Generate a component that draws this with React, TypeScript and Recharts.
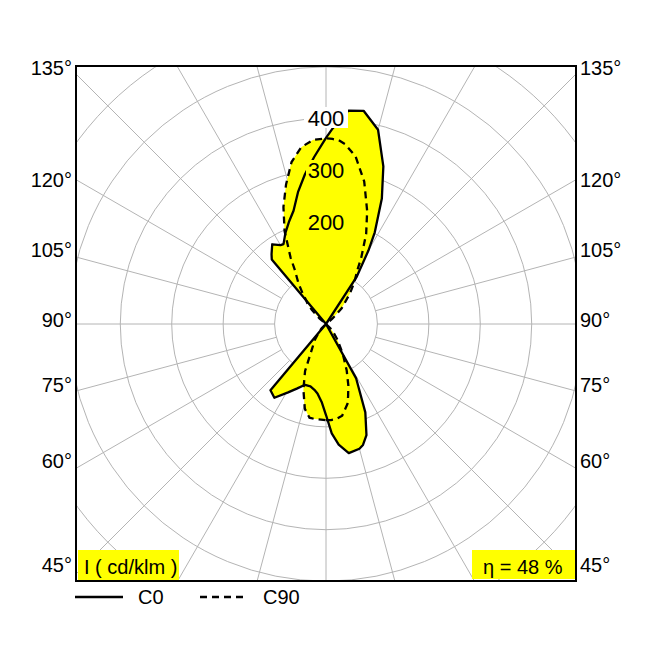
import React from 'react';
import { RadarChart, Radar, PolarGrid, PolarAngleAxis, PolarRadiusAxis } from 'recharts';

// gamma angle: 0 = nadir (down), 90 = right, 180 = zenith (up), 270 = left
const ANGLES = [
  0, 3, 6, 10, 15, 17, 20, 24, 29, 30, 32, 36, 40, 45, 50,
  125, 130, 135, 142, 145, 147, 150, 152, 156, 160, 165, 170, 174, 176, 178,
  180, 184, 188, 192, 196, 200, 204, 208, 210, 214, 218, 220, 222, 225, 230, 235,
  310, 315, 318, 320, 325, 331, 336, 341, 346, 350, 353, 357,
];

// cd/klm
const C0 = [
  177, 213, 236, 255, 251, 246, 230, 188, 121, 0, 0, 0, 0, 0, 0,
  0, 0, 0, 0, 0, 110, 165, 202, 267, 326, 391, 421, 417, 400, 381,
  362, 326, 294, 262, 229, 211, 194, 176, 177, 187, 172, 164, 0, 0, 0, 0,
  0, 0, 0, 168, 175, 152, 137, 125, 125, 130, 136, 153,
];

const C90 = [
  187, 187, 186, 181, 161, 147, 127, 99, 68, 62, 51, 38, 25, 12, 0,
  0, 16, 43, 76, 92, 104, 123, 146, 192, 234, 287, 331, 352, 358, 360,
  361, 359, 347, 322, 282, 242, 198, 147, 121, 96, 72, 60, 54, 39, 16, 0,
  0, 12, 19, 23, 38, 57, 100, 135, 170, 185, 186, 186,
];

const GRID_ANGLES = [0, 15, 30, 45, 60, 75, 90, 105, 120, 135, 150, 165, 180, 195, 210, 225, 240, 255, 270, 285, 300, 315, 330, 345];
const RING_VALUES = [100, 200, 300, 400, 500, 600, 700];
const RING_LABELS = ['400', '300', '200'];
const SIDE_LABELS = ['135°', '120°', '105°', '90°', '75°', '60°', '45°'];

const rows = ANGLES.map((angle, i) => ({ angle, c0: C0[i], c90: C90[i] }));

const YELLOW = '#ffff00';
const FONT = '"Liberation Sans", Arial, sans-serif';
const W = 498;
const H = 513;
const CX = 249;
const CY = 257;
const R_OUT = 360;
const sideY = [68, 180, 250, 320, 385, 461, 565];
const ringY = [117.5, 169.5, 221.5];

export default function App() {
  return (
    <div style={{ position: 'absolute', left: 0, top: 0, width: 650, height: 650, background: '#fff', fontFamily: FONT }}>
      <div
        style={{
          position: 'absolute', left: 75, top: 65, width: 502, height: 517,
          border: '2px solid #000', boxSizing: 'border-box', overflow: 'hidden', background: '#fff',
        }}
      >
        {/* grid: radial lines start at the first ring (100 cd/klm) */}
        <div style={{ position: 'absolute', left: 0, top: 0 }}>
          <RadarChart
            width={W} height={H} data={rows} cx={CX} cy={CY}
            innerRadius={R_OUT / 7} outerRadius={R_OUT}
            startAngle={-90} endAngle={270}
            margin={{ top: 0, right: 0, bottom: 0, left: 0 }}
          >
            <PolarGrid gridType="circle" stroke="#b4b4b4" strokeWidth={1} />
            <PolarAngleAxis dataKey="angle" type="number" domain={[0, 360]} ticks={GRID_ANGLES} tick={false} tickLine={false} axisLine={false} />
            <PolarRadiusAxis type="number" domain={[100, 700]} allowDataOverflow ticks={RING_VALUES} tickCount={7} tick={false} axisLine={false} />
            <Radar dataKey="c90" fill="none" fillOpacity={0} stroke="none" dot={false} isAnimationActive={false} />
          </RadarChart>
        </div>
        <div style={{ position: 'absolute', left: 0, top: 0 }}>
          <RadarChart
            width={W} height={H} data={rows} cx={CX} cy={CY}
            innerRadius={0} outerRadius={R_OUT}
            startAngle={-90} endAngle={270}
            margin={{ top: 0, right: 0, bottom: 0, left: 0 }}
          >
            <PolarAngleAxis dataKey="angle" type="number" domain={[0, 360]} tick={false} tickLine={false} axisLine={false} />
            <PolarRadiusAxis type="number" domain={[0, 700]} tick={false} axisLine={false} />
            <Radar name="C0 fill" dataKey="c0" fill={YELLOW} fillOpacity={1} stroke="none" dot={false} isAnimationActive={false} />
            <Radar name="C90 fill" dataKey="c90" fill={YELLOW} fillOpacity={1} stroke="none" dot={false} isAnimationActive={false} />
            <Radar name="C0" dataKey="c0" fill="none" fillOpacity={0} stroke="#000" strokeWidth={2.3} strokeLinejoin="round" dot={false} isAnimationActive={false} />
            <Radar name="C90" dataKey="c90" fill="none" fillOpacity={0} stroke="#000" strokeWidth={2.3} strokeDasharray="7 5" dot={false} isAnimationActive={false} />
          </RadarChart>
        </div>
      </div>

      <svg width={650} height={650} style={{ position: 'absolute', left: 0, top: 0 }}>
        {/* ring labels */}
        <rect x={304} y={107} width={44} height={21} fill="#fff" />
        <rect x={306} y={160} width={40} height={19} fill={YELLOW} />
        {RING_LABELS.map((t, i) => (
          <text key={t} x={326} y={ringY[i] + 8} textAnchor="middle" fontSize={22} fontFamily={FONT} fill="#000">{t}</text>
        ))}

        {/* gamma labels on both sides */}
        {SIDE_LABELS.map((t, i) => (
          <g key={t}>
            <text x={72} y={sideY[i] + 7} textAnchor="end" fontSize={20} fontFamily={FONT} fill="#000">{t}</text>
            <text x={580} y={sideY[i] + 7} textAnchor="start" fontSize={20} fontFamily={FONT} fill="#000">{t}</text>
          </g>
        ))}

        {/* unit and efficiency boxes */}
        <rect x={78} y={550} width={101} height={30} fill={YELLOW} />
        <text x={84} y={574} fontSize={20} fontFamily={FONT} fill="#000">I ( cd/klm )</text>
        <rect x={472} y={550} width={103} height={29} fill={YELLOW} />
        <text x={483} y={574} fontSize={20} fontFamily={FONT} fill="#000">η = 48 %</text>

        {/* legend */}
        <line x1={75} y1={597} x2={123} y2={597} stroke="#000" strokeWidth={2.3} />
        <text x={138} y={604} fontSize={20} fontFamily={FONT} fill="#000">C0</text>
        <line x1={200} y1={597} x2={243} y2={597} stroke="#000" strokeWidth={2.3} strokeDasharray="7 5" />
        <text x={263} y={604} fontSize={20} fontFamily={FONT} fill="#000">C90</text>
      </svg>
    </div>
  );
}
